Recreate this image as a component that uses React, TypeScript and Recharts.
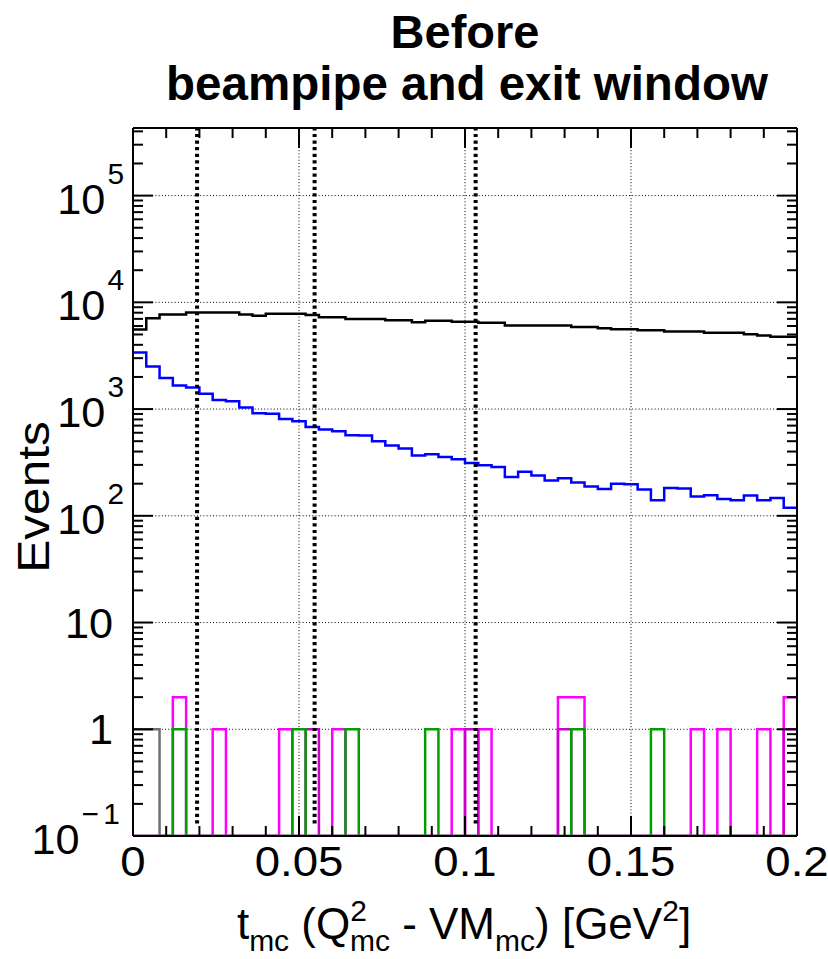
import React from "react";
import { LineChart, Line, XAxis, YAxis, ReferenceLine } from "recharts";

// ---------- binning ----------
const BIN_WIDTH = 0.004;
const N_BINS = 50;

// ---------- series values (counts per bin) ----------
const blackCounts = [
  5570, 7110, 7700, 7700, 8040, 8040, 8040, 8040, 7700, 7473,
  7800, 7800, 7800, 7600, 7260, 7260, 7000, 7000, 7000, 6810,
  6810, 6520, 6710, 6710, 6580, 6580, 6430, 6430, 6075, 6075,
  6075, 6075, 6075, 5890, 5890, 5730, 5610, 5610, 5490, 5490,
  5335, 5335, 5335, 5180, 5180, 5180, 5035, 4890, 4750, 4750,
];

const blueCounts = [
  3390, 2506, 1960, 1664, 1594, 1389, 1219, 1186, 1035, 912,
  905, 809, 770, 681, 644, 621, 568, 564, 500, 456,
  427, 367, 378, 356, 339, 313, 298, 287, 231, 258,
  239, 214, 225, 205, 188, 178, 200, 198, 176, 140,
  182, 180, 152, 156, 144, 140, 155, 140, 147, 119,
];

// sparse [bin, count] pairs for the low-count histograms
const grayBins = [[0, 1], [1, 1]];
const magentaBins = [
  [3, 2], [6, 1], [11, 1], [15, 1], [24, 1], [26, 1],
  [32, 2], [33, 2], [42, 1], [44, 1], [47, 1], [49, 2],
];
const darkMagentaBins = [[13, 1], [25, 1], [32, 1], [49, 1]];
const greenBins = [[3, 1], [12, 1], [16, 1], [22, 1], [33, 1], [39, 1]];

// ---------- axes ----------
const X_MIN = 0;
const X_MAX = 0.2;
const Y_MIN = 0.1;
const Y_MAX = 430000;

const xMajorTicks = [0, 0.05, 0.1, 0.15, 0.2];
const xTickLabels = ["0", "0.05", "0.1", "0.15", "0.2"];
const xAllTicks = [
  0, 0.01, 0.02, 0.03, 0.04, 0.05, 0.06, 0.07, 0.08, 0.09, 0.1,
  0.11, 0.12, 0.13, 0.14, 0.15, 0.16, 0.17, 0.18, 0.19, 0.2,
];

const yMajorTicks = [0.1, 1, 10, 100, 1000, 10000, 100000];
const yLabelBase = ["10", "1", "10", "10", "10", "10", "10"];
const yLabelExp = ["\u22121", "", "", "2", "3", "4", "5"];
const yMinorMultipliers = [2, 3, 4, 5, 6, 7, 8, 9];

const gridX = [0.05, 0.1, 0.15];
const gridY = [1, 10, 100, 1000, 10000, 100000];

// vertical dotted cut lines
const cutLines = [0.0193, 0.0547, 0.1032];
const CUT_BOTTOM = 0.131;

const FONT = "'Liberation Sans', Arial, Helvetica, sans-serif";

// ---------- build data ----------
function dense(pairs: number[][]): number[] {
  const arr = new Array(N_BINS).fill(0);
  pairs.forEach(([b, c]) => {
    arr[b] = c;
  });
  return arr;
}
const grayCounts = dense(grayBins);
const magentaCounts = dense(magentaBins);
const darkMagentaCounts = dense(darkMagentaBins);
const greenCounts = dense(greenBins);

// empty bins are drawn on the frame bottom (log-axis minimum), as ROOT does
const floorZero = (v: number) => (v > 0 ? v : Y_MIN);

const rows = Array.from({ length: N_BINS + 1 }, (_, i) => {
  const b = Math.min(i, N_BINS - 1);
  return {
    t: +(i * BIN_WIDTH).toFixed(3),
    black: blackCounts[b],
    blue: blueCounts[b],
    gray: floorZero(grayCounts[b]),
    magenta: floorZero(magentaCounts[b]),
    darkMagenta: floorZero(darkMagentaCounts[b]),
    green: floorZero(greenCounts[b]),
  };
});

const yAllTicks: number[] = [];
yMajorTicks.forEach((d) => {
  yAllTicks.push(d);
  yMinorMultipliers.forEach((m) => {
    const v = d * m;
    if (v <= Y_MAX) yAllTicks.push(v);
  });
});

// ---------- tick renderers ----------
const MAJOR_LEN = 20;
const MINOR_LEN = 10;

function BottomTick(props: any) {
  const { x, y, payload } = props;
  const mi = xMajorTicks.indexOf(payload.value);
  const len = mi >= 0 ? MAJOR_LEN : MINOR_LEN;
  return (
    <g>
      <line x1={x} x2={x} y1={y} y2={y - len} stroke="#000" strokeWidth={2} />
      {mi >= 0 && (
        <g transform={`translate(${x},${y + 40}) scale(1.06,1)`}>
          <text x={0} y={0} textAnchor="middle" fontSize={43} fontFamily={FONT} fill="#000">
            {xTickLabels[mi]}
          </text>
        </g>
      )}
    </g>
  );
}

function TopTick(props: any) {
  const { x, y, payload } = props;
  const mi = xMajorTicks.indexOf(payload.value);
  const len = mi >= 0 ? MAJOR_LEN : MINOR_LEN;
  return <line x1={x} x2={x} y1={y} y2={y + len} stroke="#000" strokeWidth={2} />;
}

function LeftTick(props: any) {
  const { x, y, payload } = props;
  const mi = yMajorTicks.indexOf(payload.value);
  const len = mi >= 0 ? MAJOR_LEN : MINOR_LEN;
  const exp = mi >= 0 ? yLabelExp[mi] : "";
  const ax = exp ? x - 9 : x - 20;
  const ay = exp ? y + 18 : y + 15;
  return (
    <g>
      <line x1={x} x2={x + len} y1={y} y2={y} stroke="#000" strokeWidth={2} />
      {mi >= 0 && (
        <g transform={`translate(${ax},${ay}) scale(1.03,1)`}>
          <text x={0} y={0} textAnchor="end" fontSize={42} fontFamily={FONT} fill="#000">
            {yLabelBase[mi]}
            {exp && (
              <tspan fontSize={29} dx={2} dy={-30} letterSpacing={exp.length > 1 ? 4 : 0}>
                {exp}
              </tspan>
            )}
          </text>
        </g>
      )}
    </g>
  );
}

function RightTick(props: any) {
  const { x, y, payload } = props;
  const mi = yMajorTicks.indexOf(payload.value);
  const len = mi >= 0 ? MAJOR_LEN : MINOR_LEN;
  return <line x1={x} x2={x - len} y1={y} y2={y} stroke="#000" strokeWidth={2} />;
}

const axisLine = { stroke: "#000", strokeWidth: 2 };
const gridStyle = { stroke: "#000", strokeWidth: 1, strokeDasharray: "1 2.2" };

export default function App() {
  return (
    <div style={{ position: "absolute", left: 0, top: 0, width: 828, height: 959, background: "#fff" }}>
      <LineChart width={828} height={959} data={rows} margin={{ top: 127, right: 30, bottom: 0, left: 0 }}>
        {gridY.map((v) => (
          <ReferenceLine key={"gy" + v} xAxisId="x" yAxisId="y" y={v} {...gridStyle} />
        ))}
        {gridX.map((v) => (
          <ReferenceLine key={"gx" + v} xAxisId="x" yAxisId="y" x={v} {...gridStyle} />
        ))}

        <XAxis
          xAxisId="x"
          dataKey="t"
          type="number"
          domain={[X_MIN, X_MAX]}
          allowDataOverflow
          ticks={xAllTicks}
          interval={0}
          height={123}
          axisLine={axisLine}
          tickLine={false}
          tickSize={0}
          tickMargin={0}
          tick={(p: any) => <BottomTick {...p} />}
        />
        <XAxis
          xAxisId="xt"
          orientation="top"
          dataKey="t"
          type="number"
          domain={[X_MIN, X_MAX]}
          allowDataOverflow
          ticks={xAllTicks}
          interval={0}
          height={1}
          axisLine={axisLine}
          tickLine={false}
          tickSize={0}
          tickMargin={0}
          tick={(p: any) => <TopTick {...p} />}
        />
        <YAxis
          yAxisId="y"
          type="number"
          scale="log"
          domain={[Y_MIN, Y_MAX]}
          allowDataOverflow
          ticks={yAllTicks}
          interval={0}
          width={133}
          axisLine={axisLine}
          tickLine={false}
          tickSize={0}
          tickMargin={0}
          tick={(p: any) => <LeftTick {...p} />}
        />
        <YAxis
          yAxisId="yr"
          orientation="right"
          type="number"
          scale="log"
          domain={[Y_MIN, Y_MAX]}
          allowDataOverflow
          ticks={yAllTicks}
          interval={0}
          width={1}
          axisLine={axisLine}
          tickLine={false}
          tickSize={0}
          tickMargin={0}
          tick={(p: any) => <RightTick {...p} />}
        />

        <Line xAxisId="x" yAxisId="y" dataKey="magenta" type="stepAfter" stroke="#ff00ff" strokeWidth={2.5} dot={false} isAnimationActive={false} />
        <Line xAxisId="x" yAxisId="y" dataKey="darkMagenta" type="stepAfter" stroke="#cc00cc" strokeWidth={2.5} dot={false} isAnimationActive={false} />
        <Line xAxisId="x" yAxisId="y" dataKey="green" type="stepAfter" stroke="#009f00" strokeWidth={2.5} dot={false} isAnimationActive={false} />
        <Line xAxisId="x" yAxisId="y" dataKey="gray" type="stepAfter" stroke="#707070" strokeWidth={2.5} dot={false} isAnimationActive={false} />
        <Line xAxisId="x" yAxisId="y" dataKey="blue" type="stepAfter" stroke="#0000ff" strokeWidth={2.5} dot={false} isAnimationActive={false} />
        <Line xAxisId="x" yAxisId="y" dataKey="black" type="stepAfter" stroke="#000" strokeWidth={2.5} dot={false} isAnimationActive={false} />

        {cutLines.map((c) => (
          <ReferenceLine
            key={c}
            xAxisId="x"
            yAxisId="y"
            segment={[
              { x: c, y: CUT_BOTTOM },
              { x: c, y: Y_MAX },
            ]}
            stroke="#000"
            strokeWidth={4}
            strokeDasharray="3.2 3.4"
            ifOverflow="visible"
          />
        ))}
      </LineChart>

      <svg width={828} height={959} style={{ position: "absolute", left: 0, top: 0, pointerEvents: "none" }}>
        <text x={465} y={48} textAnchor="middle" fontSize={47} fontWeight="bold" fontFamily={FONT} fill="#000">
          Before
        </text>
        <text x={467} y={100} textAnchor="middle" fontSize={47.5} fontWeight="bold" fontFamily={FONT} fill="#000">
          beampipe and exit window
        </text>
        <g transform="translate(49,497) rotate(-90) scale(1.1,1)">
          <text x={0} y={0} textAnchor="middle" fontSize={45} fontFamily={FONT} fill="#000">
            Events
          </text>
        </g>
        <text x={464} y={939} textAnchor="middle" fontSize={44} fontFamily={FONT} fill="#000">
          t
          <tspan fontSize={30} dy={12}>mc</tspan>
          <tspan dy={-12}> (Q</tspan>
          <tspan fontSize={30} dy={-18}>2</tspan>
          <tspan fontSize={30} dx={-17} dy={30}>mc</tspan>
          <tspan dy={-12}> - VM</tspan>
          <tspan fontSize={30} dy={12}>mc</tspan>
          <tspan dy={-12}>) [GeV</tspan>
          <tspan fontSize={30} dy={-18}>2</tspan>
          <tspan dy={18}>]</tspan>
        </text>
      </svg>
    </div>
  );
}
